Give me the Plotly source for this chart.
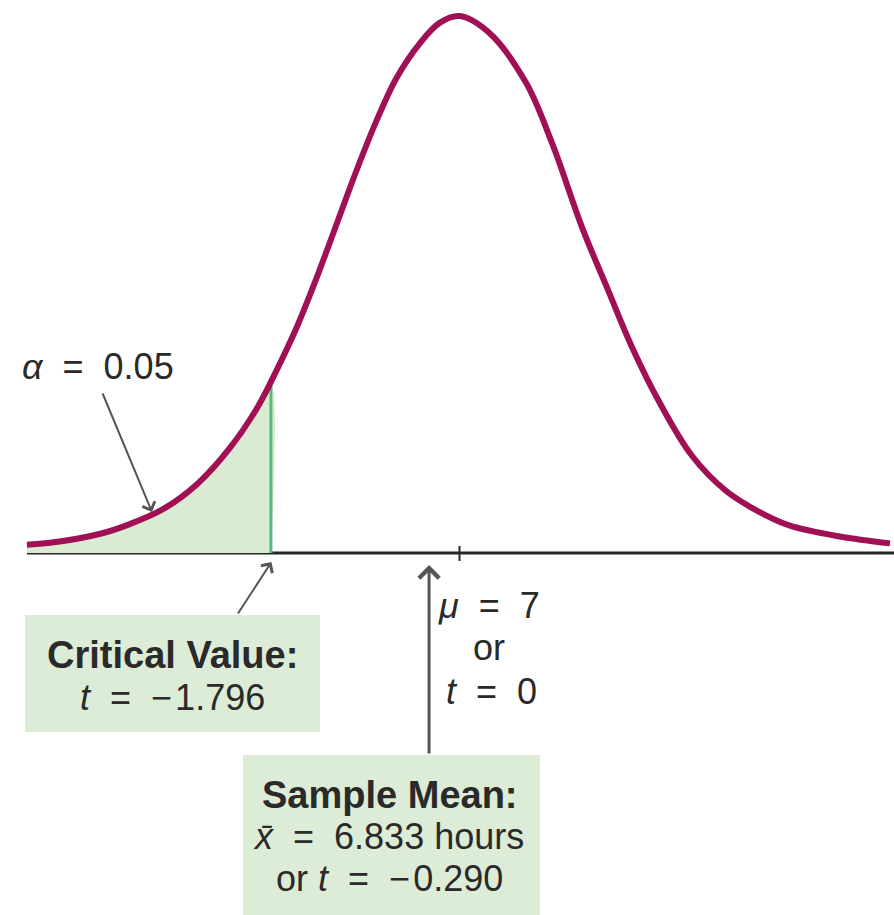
import plotly.graph_objects as go

# ---- data (t units, relative density) ----
curve_t = [-4.12, -3.90, -3.42, -3.14, -2.82, -2.50, -2.19, -1.93, -1.74, -1.55, -1.36,
           -1.17, -0.98, -0.79, -0.60, -0.38, -0.19, 0.00, 0.28, 0.63, 0.88,
           1.17, 1.42, 1.64, 1.90, 2.21, 2.54, 2.85, 3.14, 3.62, 4.10]
curve_density = [0.006, 0.0074, 0.014, 0.021, 0.032, 0.050, 0.076, 0.105, 0.133, 0.164, 0.200,
                 0.239, 0.278, 0.314, 0.345, 0.370, 0.385, 0.390, 0.378, 0.342, 0.298,
                 0.236, 0.190, 0.150, 0.110, 0.071, 0.045, 0.030, 0.020, 0.012, 0.007]
critical_t = -1.796
critical_density = 0.123
alpha = 0.05
mu = 7
t_mu = 0
sample_mean = 6.833
sample_t = -0.290

# ---- pixel helpers for layout placement ----
PX_PER_T = 105.0
X0 = 459.5
BASE = 553.0
PX_PER_D = 537.0 / 0.39


def X(px):
    return (px - X0) / PX_PER_T


def Y(py):
    return (BASE - py) / PX_PER_D


FONT = "Liberation Sans, Arial, sans-serif"
CURVE = "#a10f55"
GREEN_FILL = "#d9ebd3"
BOX = "#ddecd6"
GREEN_LINE = "#5bbb7c"
ARROW = "#555555"
TXT = "#2a2a2a"
FS = "\u2007"  # figure space

fig = go.Figure()

# shaded tail
tail_x = [t for t in curve_t if t < critical_t] + [critical_t, critical_t]
tail_y = [d for t, d in zip(curve_t, curve_density) if t < critical_t] + [critical_density, 0]
fig.add_trace(go.Scatter(x=tail_x, y=tail_y, mode="lines", fill="tozeroy",
                         fillcolor=GREEN_FILL, line=dict(width=0, shape="spline"),
                         hoverinfo="skip"))

# critical value line
fig.add_trace(go.Scatter(x=[critical_t, critical_t], y=[0, critical_density], mode="lines",
                         line=dict(color=GREEN_LINE, width=3), hoverinfo="skip"))

# the curve
fig.add_trace(go.Scatter(x=curve_t, y=curve_density, mode="lines",
                         line=dict(color=CURVE, width=6, shape="spline", smoothing=1.0),
                         hoverinfo="skip"))

shapes = [
    dict(type="line", xref="x", yref="y", x0=X(27), x1=X(894), y0=0, y1=0,
         line=dict(color="#262626", width=3), layer="below"),
    dict(type="line", xref="x", yref="y", x0=t_mu, x1=t_mu, y0=Y(546), y1=Y(561),
         line=dict(color="#262626", width=2)),
    dict(type="rect", xref="x", yref="y", x0=X(25), x1=X(320), y0=Y(615), y1=Y(732),
         fillcolor=BOX, line=dict(width=0), layer="below"),
    dict(type="rect", xref="x", yref="y", x0=X(243), x1=X(540), y0=Y(755), y1=Y(920),
         fillcolor=BOX, line=dict(width=0), layer="below"),
]

annotations = []


def txt(text, px, py, size=36, bold=False):
    annotations.append(dict(
        x=X(px), y=Y(py), xref="x", yref="y", text=(f"<b>{text}</b>" if bold else text),
        showarrow=False, xanchor="center", yanchor="middle",
        font=dict(family=FONT, size=size, color=TXT)))


def arrow(hx, hy, tx, ty, width=2):
    annotations.append(dict(
        x=hx, y=hy, ax=tx, ay=ty, xref="x", yref="y", axref="x", ayref="y",
        text="", showarrow=True, arrowhead=4, arrowsize=1.3, arrowwidth=width,
        arrowcolor=ARROW))


txt(f"<i>α</i>{FS}={FS}{alpha:.2f}", 98, 366, size=36)
txt("Critical Value:", 172, 655, size=38, bold=True)
txt(f"<i>t</i>{FS}={FS}−\u200a{abs(critical_t):.3f}", 172, 697)
txt(f"<i>μ</i>{FS}={FS}{mu}", 489, 605)
txt("or", 489, 647)
txt(f"<i>t</i>{FS}={FS}{t_mu}", 491, 691)
txt("Sample Mean:", 390, 795, size=38, bold=True)
txt(f"<i>x̄</i>{FS}={FS}{sample_mean:.3f} hours", 388, 836)
txt(f"or <i>t</i>{FS}={FS}−\u200a{abs(sample_t):.3f}", 389, 878)

arrow(X(152), Y(512), X(102), Y(392))
arrow(critical_t + 0.005, Y(562), X(237), Y(615))
arrow(sample_t, Y(565), sample_t, Y(755), width=3)

fig.update_layout(
    width=894, height=915,
    margin=dict(l=0, r=0, t=0, b=0),
    paper_bgcolor="white", plot_bgcolor="white",
    showlegend=False,
    xaxis=dict(visible=False, range=[X(0), X(894)], fixedrange=True),
    yaxis=dict(visible=False, range=[Y(915), Y(0)], fixedrange=True),
    shapes=shapes,
    annotations=annotations,
)

fig.write_html("out.html", config={"displayModeBar": False},
               post_script="document.body.style.margin='0';document.body.style.overflow='hidden';")
